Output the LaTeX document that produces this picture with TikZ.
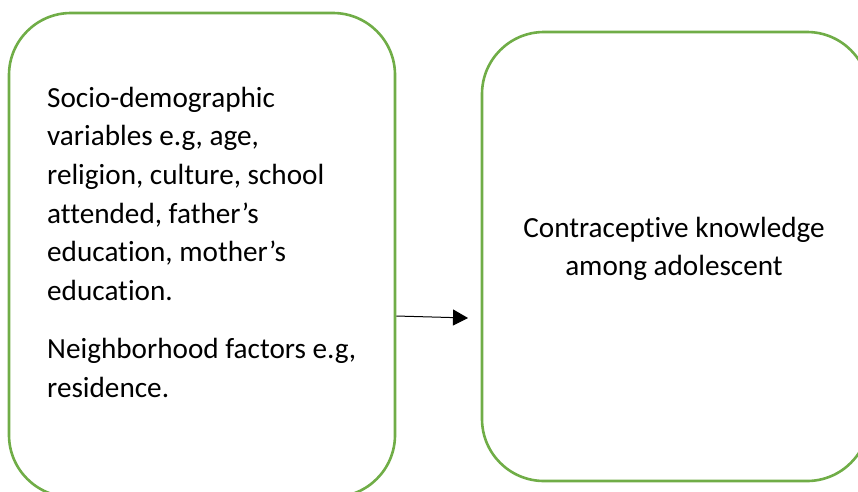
\documentclass[tikz,border=0pt]{standalone}
\usepackage{fontspec}
\setmainfont[RawFeature=-liga]{Carlito}
\usetikzlibrary{arrows.meta,calc}
\definecolor{boxgreen}{HTML}{70AD47}
\tikzset{
  box/.style={draw=boxgreen, line width=2.6pt, rounded corners=62pt, inner sep=0pt},
  txt/.style={inner sep=0pt, font=\fontsize{29.2pt}{38.7pt}\selectfont},
  conn/.style={line width=1pt, -{Triangle[length=15pt,width=16pt]}}
}
\begin{document}
\begin{tikzpicture}[x=1pt,y=-1pt]
\useasboundingbox (0,0) rectangle (858,491);
\clip (0,0) rectangle (858,491);
\node[box, minimum width=386pt, minimum height=484pt] (L) at (202,255) {};
\node[box, minimum width=387pt, minimum height=449pt] (R) at (675.5,256.5) {};
\node[txt, anchor=base west] (l1) at (47,107) {Socio-demographic};
\node[txt, anchor=base west] (l2) at (47,145.7) {variables e.g, age,};
\node[txt, anchor=base west] (l3) at (47,184.4) {religion, culture, school};
\node[txt, anchor=base west] (l4) at (47,223.1) {attended, father’s};
\node[txt, anchor=base west] (l5) at (47,261.8) {education, mother’s};
\node[txt, anchor=base west] (l6) at (47,300.5) {education.};
\node[txt, anchor=base west] (l7) at (47,358.5) {Neighborhood factors e.g,};
\node[txt, anchor=base west] (l8) at (47,397.2) {residence.};
\node[txt, anchor=base] (r1) at (674,237) {Contraceptive knowledge};
\node[txt, anchor=base] (r2) at (674,275.7) {among adolescent};
\coordinate (s) at ($(L.east)+(0,61)$);
\coordinate (t) at (468,318);
\draw[conn] (s) -- (t);
\end{tikzpicture}
\end{document}
